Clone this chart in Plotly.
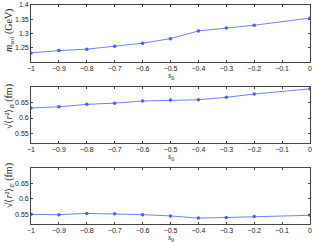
import plotly.graph_objects as go

s0 = [-1.0, -0.9, -0.8, -0.7, -0.6, -0.5, -0.4, -0.3, -0.2, 0.0]
m_sol = [1.232, 1.240, 1.245, 1.255, 1.266, 1.282, 1.309, 1.319, 1.329, 1.354]
r_B = [0.633, 0.637, 0.645, 0.649, 0.656, 0.659, 0.660, 0.668, 0.679, 0.696]
r_E = [0.550, 0.549, 0.553, 0.552, 0.549, 0.545, 0.538, 0.540, 0.543, 0.547]

x_ticks = [-1, -0.9, -0.8, -0.7, -0.6, -0.5, -0.4, -0.3, -0.2, -0.1, 0]
x_ticktext = ["\u22121", "\u22120.9", "\u22120.8", "\u22120.7", "\u22120.6", "\u22120.5",
              "\u22120.4", "\u22120.3", "\u22120.2", "\u22120.1", "0"]
y1_ticks = [1.25, 1.3, 1.35, 1.4]
y2_ticks = [0.55, 0.6, 0.65]

W, H = 316, 242


def px(x):
    return x / W


def py(y):
    return 1 - y / H


fig = go.Figure()

line_color = "#4a5ff5"
for i, ys in enumerate([m_sol, r_B, r_E]):
    sfx = "" if i == 0 else str(i + 1)
    fig.add_trace(go.Scatter(x=s0, y=ys, mode="lines+markers",
                             line=dict(color=line_color, width=0.8),
                             marker=dict(color=line_color, size=3.5),
                             xaxis="x" + sfx, yaxis="y" + sfx, showlegend=False))

x0, x1 = px(31), px(310)
domains = [(py(62), py(5)), (py(143), py(87)), (py(223.7), py(167.7))]
yranges = [[1.2, 1.4], [0.518, 0.702], [0.52, 0.70]]
yticks = [y1_ticks, y2_ticks, y2_ticks]

tickfont = dict(family="Liberation Sans, Arial, sans-serif", size=7, color="#222")
layout = dict(width=W, height=H, margin=dict(l=0, r=0, t=0, b=0, autoexpand=False),
              paper_bgcolor="white", plot_bgcolor="white")
for i in range(3):
    sfx = "" if i == 0 else str(i + 1)
    layout["xaxis" + sfx] = dict(domain=[x0, x1], range=[-1, 0], tickvals=x_ticks,
                                 ticktext=x_ticktext, ticks="inside", ticklen=2,
                                 tickcolor="#444", showline=True, linecolor="#444",
                                 linewidth=0.8, mirror="ticks", showgrid=False,
                                 zeroline=False, tickfont=tickfont, automargin=False,
                                 anchor="y" + sfx)
    layout["yaxis" + sfx] = dict(domain=list(domains[i]), range=yranges[i],
                                 tickvals=yticks[i], ticks="inside", ticklen=2,
                                 tickcolor="#444", showline=True, linecolor="#444",
                                 linewidth=0.8, mirror="ticks", showgrid=False,
                                 zeroline=False, tickfont=tickfont, automargin=False,
                                 anchor="x" + sfx)
fig.update_layout(**layout)

serif_family = "Liberation Serif, Times New Roman, serif"
for yy in [76, 157, 238]:
    fig.add_annotation(x=(x0 + x1) / 2, y=py(yy), xref="paper", yref="paper",
                       xanchor="center", yanchor="middle",
                       text="<i>s</i><sub>0</sub>", showarrow=False,
                       font=dict(family=serif_family, size=8, color="#222"))

ylabels = ["<i>m</i><sub>sol</sub> (GeV)",
           "\u221a\u27e8<i>r</i>\u00b2\u27e9<sub><i>B</i></sub> (fm)",
           "\u221a\u27e8<i>r</i>\u00b2\u27e9<sub><i>E</i></sub> (fm)"]
ycent = [31, 107, 186]
for lab, yc in zip(ylabels, ycent):
    fig.add_annotation(x=px(9), y=py(yc), xref="paper", yref="paper",
                       xanchor="center", yanchor="middle",
                       text=lab, showarrow=False, textangle=-90,
                       font=dict(family=serif_family, size=10, color="#222"))

fig.write_html("out.html", config={"displayModeBar": False},
               post_script="document.body.style.margin='0';"
                           "document.documentElement.style.overflow='hidden';")
